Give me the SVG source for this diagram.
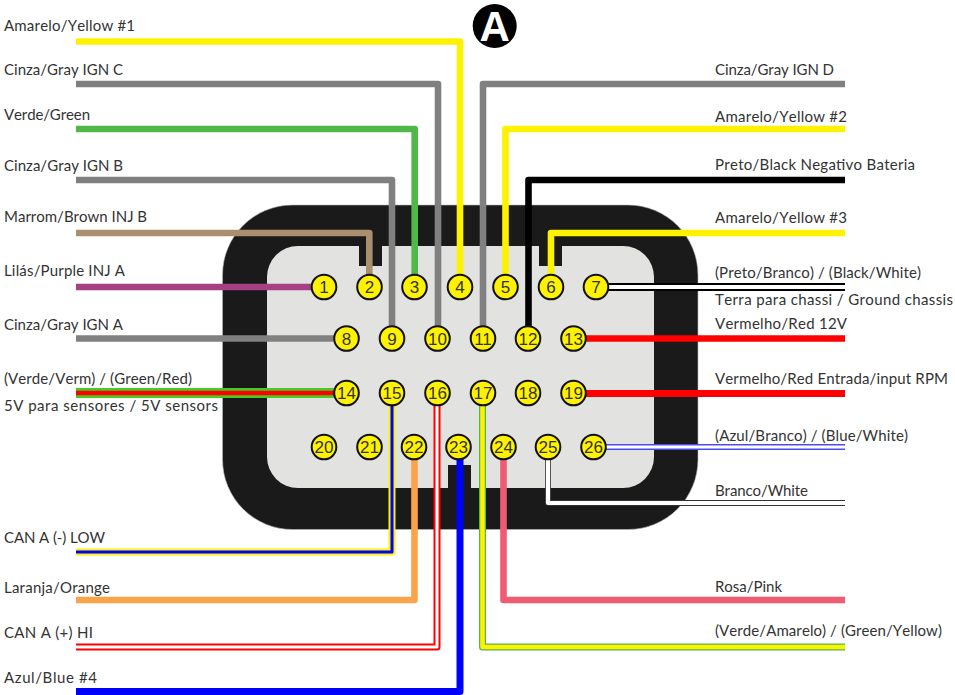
<svg xmlns="http://www.w3.org/2000/svg" width="955" height="695" viewBox="0 0 955 695">
<style>
.w{fill:none;stroke-linejoin:round}
.w6{stroke-width:6.600}
.t{font:15px Lato,"Liberation Sans",sans-serif;fill:#333;font-kerning:none}
.pin circle{fill:#fff200;stroke:#111;stroke-width:2}
.pin text{font:17px "Liberation Sans",Arial,sans-serif;fill:#333;text-anchor:middle}
</style>
<rect width="955" height="695" fill="#fff"/>
<g id="connector-body">
<rect x="222.500" y="205" width="475.500" height="324.500" rx="70" fill="#1a1a1a" stroke="#bbb" stroke-width=".6"/>
<rect x="267" y="246" width="387" height="242" rx="31" fill="#e2e2e1"/>
<rect x="359" y="240" width="23" height="26" fill="#1a1a1a"/>
<rect x="539" y="240" width="23" height="26" fill="#1a1a1a"/>
<rect x="448" y="465" width="23" height="28" fill="#1a1a1a"/>
</g>
<g id="connectors">
<path class="w w6" stroke="#fff200" d="M76 41.500H460V287"/>
<path class="w w6" stroke="#808080" d="M76 84H438V338"/>
<path class="w w6" stroke="#4fb848" d="M76 129H414.700V287"/>
<path class="w w6" stroke="#808080" d="M76 180H392V338"/>
<path class="w w6" stroke="#a98e6f" d="M76 233H369.300V287"/>
<path class="w w6" stroke="#a44183" d="M76 287H324"/>
<path class="w w6" stroke="#808080" d="M76 338.500H346"/>
<path class="w w6" stroke="#808080" d="M845 84H483V338"/>
<path class="w w6" stroke="#fff200" d="M845 129H505.500V287"/>
<path class="w w6" stroke="#000" d="M845 180H528.500V338"/>
<path class="w w6" stroke="#fff200" d="M845 233H551V287"/>
<path class="w" stroke="#000" stroke-width="8" d="M596 287H845"/>
<path class="w" stroke="#fff" stroke-width="4" d="M596 287H845"/>
<path class="w w6" stroke="#ff0000" d="M573 338.500H845"/>
<path class="w" stroke="#44cc22" stroke-width="10" d="M76 393H346"/>
<path class="w" stroke="#ff0000" stroke-width="4.500" d="M76 393H346"/>
<path class="w" stroke="#ff0000" stroke-width="7" d="M573 393.500H845"/>
<path class="w" stroke="#fff200" stroke-width="7" d="M392 393V552H76"/>
<path class="w" stroke="#0000ff" stroke-width="3" d="M392 393V552H76"/>
<path class="w" stroke="#ff0000" stroke-width="7" d="M437 393V647H76"/>
<path class="w" stroke="#fff" stroke-width="3" d="M437 393V647H76"/>
<path class="w" stroke="#4fb848" stroke-width="7" d="M482.500 393V647H845"/>
<path class="w" stroke="#fff200" stroke-width="4.500" d="M482.500 393V647H845"/>
<path class="w w6" stroke="#f9a34a" d="M414.500 447V600H76"/>
<path class="w" stroke="#0000ff" stroke-width="7" d="M460 447V691.500H76"/>
<path class="w w6" stroke="#f05b74" d="M503.500 447V600H845"/>
<path class="w" stroke="#333" stroke-width="5.800" d="M548 447V503H845"/>
<path class="w" stroke="#fff" stroke-width="4.200" d="M548 447V503H845"/>
<path class="w" stroke="#4a4af8" stroke-width="6" d="M593.500 447H845"/>
<path class="w" stroke="#fff" stroke-width="3" d="M593.500 447H845"/>
</g>
<g id="pin-1" class="pin"><circle cx="324" cy="287" r="12.300"/><text x="324" y="293">1</text></g>
<g id="pin-2" class="pin"><circle cx="369.500" cy="287" r="12.300"/><text x="369.500" y="293">2</text></g>
<g id="pin-3" class="pin"><circle cx="414.500" cy="287" r="12.300"/><text x="414.500" y="293">3</text></g>
<g id="pin-4" class="pin"><circle cx="460" cy="287" r="12.300"/><text x="460" y="293">4</text></g>
<g id="pin-5" class="pin"><circle cx="505.500" cy="287" r="12.300"/><text x="505.500" y="293">5</text></g>
<g id="pin-6" class="pin"><circle cx="551" cy="287" r="12.300"/><text x="551" y="293">6</text></g>
<g id="pin-7" class="pin"><circle cx="596" cy="287" r="12.300"/><text x="596" y="293">7</text></g>
<g id="pin-8" class="pin"><circle cx="346.500" cy="338.500" r="12.300"/><text x="346.500" y="344.500">8</text></g>
<g id="pin-9" class="pin"><circle cx="392" cy="338.500" r="12.300"/><text x="392" y="344.500">9</text></g>
<g id="pin-10" class="pin"><circle cx="437.500" cy="338.500" r="12.300"/><text x="437.500" y="344.500">10</text></g>
<g id="pin-11" class="pin"><circle cx="483" cy="338.500" r="12.300"/><text x="483" y="344.500">11</text></g>
<g id="pin-12" class="pin"><circle cx="528" cy="338.500" r="12.300"/><text x="528" y="344.500">12</text></g>
<g id="pin-13" class="pin"><circle cx="573.500" cy="338.500" r="12.300"/><text x="573.500" y="344.500">13</text></g>
<g id="pin-14" class="pin"><circle cx="346.500" cy="393" r="12.300"/><text x="346.500" y="399">14</text></g>
<g id="pin-15" class="pin"><circle cx="392" cy="393" r="12.300"/><text x="392" y="399">15</text></g>
<g id="pin-16" class="pin"><circle cx="437.500" cy="393" r="12.300"/><text x="437.500" y="399">16</text></g>
<g id="pin-17" class="pin"><circle cx="483" cy="393" r="12.300"/><text x="483" y="399">17</text></g>
<g id="pin-18" class="pin"><circle cx="528" cy="393" r="12.300"/><text x="528" y="399">18</text></g>
<g id="pin-19" class="pin"><circle cx="573.500" cy="393" r="12.300"/><text x="573.500" y="399">19</text></g>
<g id="pin-20" class="pin"><circle cx="324" cy="447" r="12.300"/><text x="324" y="453">20</text></g>
<g id="pin-21" class="pin"><circle cx="369.500" cy="447" r="12.300"/><text x="369.500" y="453">21</text></g>
<g id="pin-22" class="pin"><circle cx="414" cy="447" r="12.300"/><text x="414" y="453">22</text></g>
<g id="pin-23" class="pin"><circle cx="458.500" cy="447" r="12.300"/><text x="458.500" y="453">23</text></g>
<g id="pin-24" class="pin"><circle cx="503.500" cy="447" r="12.300"/><text x="503.500" y="453">24</text></g>
<g id="pin-25" class="pin"><circle cx="548" cy="447" r="12.300"/><text x="548" y="453">25</text></g>
<g id="pin-26" class="pin"><circle cx="593.500" cy="447" r="12.300"/><text x="593.500" y="453">26</text></g>
<g id="badge-A"><circle cx="494.700" cy="26" r="22" fill="#000"/><text x="494.700" y="41" text-anchor="middle" style="font:bold 42px 'Liberation Sans',Arial,sans-serif;fill:#fff">A</text></g>
<g id="labels">
<text class="t" x="4" y="31" textLength="131">Amarelo/Yellow #1</text>
<text class="t" x="4" y="75" textLength="119">Cinza/Gray IGN C</text>
<text class="t" x="4" y="120" textLength="86">Verde/Green</text>
<text class="t" x="4" y="171" textLength="119">Cinza/Gray IGN B</text>
<text class="t" x="4" y="222" textLength="143">Marrom/Brown INJ B</text>
<text class="t" x="4" y="276" textLength="121">Lilás/Purple INJ A</text>
<text class="t" x="4" y="330" textLength="119">Cinza/Gray IGN A</text>
<text class="t" x="4" y="384" textLength="188">(Verde/Verm) / (Green/Red)</text>
<text class="t" x="4" y="411" textLength="214">5V para sensores / 5V sensors</text>
<text class="t" x="4" y="543" textLength="101">CAN A (-) LOW</text>
<text class="t" x="4" y="593" textLength="106">Laranja/Orange</text>
<text class="t" x="4" y="638" textLength="89">CAN A (+) HI</text>
<text class="t" x="4" y="683" textLength="93">Azul/Blue #4</text>
<text class="t" x="715" y="75" textLength="119">Cinza/Gray IGN D</text>
<text class="t" x="715" y="122" textLength="132">Amarelo/Yellow #2</text>
<text class="t" x="715" y="170" textLength="200">Preto/Black Negativo Bateria</text>
<text class="t" x="715" y="223" textLength="132">Amarelo/Yellow #3</text>
<text class="t" x="715" y="278" textLength="206">(Preto/Branco) / (Black/White)</text>
<text class="t" x="715" y="305" textLength="238">Terra para chassi / Ground chassis</text>
<text class="t" x="715" y="329" textLength="132">Vermelho/Red 12V</text>
<text class="t" x="715" y="384" textLength="233">Vermelho/Red Entrada/input RPM</text>
<text class="t" x="715" y="441" textLength="193">(Azul/Branco) / (Blue/White)</text>
<text class="t" x="715" y="496" textLength="93">Branco/White</text>
<text class="t" x="715" y="592" textLength="67">Rosa/Pink</text>
<text class="t" x="715" y="636" textLength="227">(Verde/Amarelo) / (Green/Yellow)</text>
</g>
</svg>
